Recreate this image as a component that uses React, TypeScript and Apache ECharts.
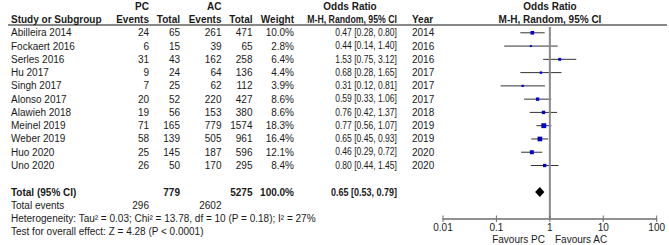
import { useEffect, useRef } from "react";
import * as echarts from "echarts";

const studies = [
  "Abilleira 2014", "Fockaert 2016", "Serles 2016", "Hu 2017", "Singh 2017", "Alonso 2017",
  "Alawieh 2018", "Meinel 2019", "Weber 2019", "Huo 2020", "Uno 2020",
];
const pcEvents = [24, 6, 31, 9, 7, 20, 19, 71, 58, 25, 26];
const pcTotal = [65, 15, 43, 24, 25, 52, 56, 165, 139, 145, 50];
const acEvents = [261, 39, 162, 64, 62, 220, 153, 779, 505, 187, 170];
const acTotal = [471, 65, 258, 136, 112, 427, 380, 1574, 961, 596, 295];
const weights = [10.0, 2.8, 6.4, 4.4, 3.9, 8.6, 8.6, 18.3, 16.4, 12.1, 8.4];
const oddsRatio = [0.47, 0.44, 1.53, 0.68, 0.31, 0.59, 0.76, 0.77, 0.65, 0.46, 0.8];
const ciLow = [0.28, 0.14, 0.75, 0.28, 0.12, 0.33, 0.42, 0.56, 0.45, 0.29, 0.44];
const ciHigh = [0.8, 1.4, 3.12, 1.65, 0.81, 1.06, 1.37, 1.07, 0.93, 0.72, 1.45];
const years = [2014, 2016, 2016, 2017, 2017, 2017, 2018, 2019, 2019, 2020, 2020];

const totalPcSubjects = 779;
const totalAcSubjects = 5275;
const totalWeight = 100.0;
const pooled = [0.65, 0.53, 0.79];
const totalPcEvents = 296;
const totalAcEvents = 2602;
const heterogeneityText = "Heterogeneity: Tau\u00b2 = 0.03; Chi\u00b2 = 13.78, df = 10 (P = 0.18); I\u00b2 = 27%";
const overallText = "Test for overall effect: Z = 4.28 (P < 0.0001)";
const xTicks = [0.01, 0.1, 1, 10, 100];

const FONT = '"Liberation Sans", Arial, sans-serif';
const FS = 10;
const TXT = "#1a1a1a";
const AXIS_COLOR = "#6e6e6e";
const ROW0 = 32.8;
const ROW_H = 13.27;
const RULE_Y = 25;
const AXIS_Y = 218.5;
const W = 669;
const H = 245;

const rowY = (i: number) => ROW0 + i * ROW_H;

const col = {
  study: 11,
  pcEv: 149,
  pcTot: 180,
  acEv: 221.5,
  acTot: 252.5,
  weight: 294,
  or: 397,
  year: 412,
  forest: 550,
};

function txt(text: string, x: number, y: number, align: string, bold = false, sx = 1) {
  return {
    type: "text",
    x,
    y,
    scaleX: sx,
    silent: true,
    style: {
      text,
      fill: TXT,
      fontFamily: FONT,
      fontSize: FS,
      fontWeight: bold ? "bold" : "normal",
      align,
      verticalAlign: "middle",
    },
  };
}

const fmtCI = (o: number, l: number, h: number) =>
  `${o.toFixed(2)} [${l.toFixed(2)}, ${h.toFixed(2)}]`;

export default function App() {
  const ref = useRef<HTMLDivElement>(null);
  useEffect(() => {
    if (!ref.current) return;
    const chart = echarts.init(ref.current, undefined, { renderer: "svg" });

    const graphics: any[] = [];
    const h1 = rowY(-2);
    const h2 = rowY(-1);
    graphics.push(txt("PC", col.pcEv, h1, "right", true));
    graphics.push(txt("AC", col.acEv, h1, "right", true));
    graphics.push(txt("Odds Ratio", 350, h1, "center", true));
    graphics.push(txt("Odds Ratio", col.forest, h1, "center", true));
    graphics.push(txt("Study or Subgroup", col.study, h2, "left", true));
    graphics.push(txt("Events", col.pcEv, h2, "right", true));
    graphics.push(txt("Total", col.pcTot, h2, "right", true));
    graphics.push(txt("Events", col.acEv, h2, "right", true));
    graphics.push(txt("Total", col.acTot, h2, "right", true));
    graphics.push(txt("Weight", col.weight, h2, "right", true));
    graphics.push(txt("M-H, Random, 95% CI", col.or, h2, "right", true, 0.875));
    graphics.push(txt("Year", col.year, h2, "left", true));
    graphics.push(txt("M-H, Random, 95% CI", col.forest, h2, "center", true));
    graphics.push({
      type: "line",
      silent: true,
      shape: { x1: 8, y1: RULE_Y, x2: 667, y2: RULE_Y },
      style: { stroke: "#111", lineWidth: 1 },
    });

    studies.forEach((s, i) => {
      const y = rowY(i);
      graphics.push(txt(s, col.study, y, "left"));
      graphics.push(txt(String(pcEvents[i]), col.pcEv, y, "right"));
      graphics.push(txt(String(pcTotal[i]), col.pcTot, y, "right"));
      graphics.push(txt(String(acEvents[i]), col.acEv, y, "right"));
      graphics.push(txt(String(acTotal[i]), col.acTot, y, "right"));
      graphics.push(txt(weights[i].toFixed(1) + "%", col.weight, y, "right"));
      graphics.push(txt(fmtCI(oddsRatio[i], ciLow[i], ciHigh[i]), col.or, y, "right", false, 0.855));
      graphics.push(txt(String(years[i]), col.year, y, "left"));
    });

    const nS = studies.length;
    const yTot = rowY(nS + 1);
    graphics.push(txt("Total (95% CI)", col.study, yTot, "left", true));
    graphics.push(txt(String(totalPcSubjects), col.pcTot, yTot, "right", true));
    graphics.push(txt(String(totalAcSubjects), col.acTot, yTot, "right", true));
    graphics.push(txt(totalWeight.toFixed(1) + "%", col.weight, yTot, "right", true));
    graphics.push(txt(fmtCI(pooled[0], pooled[1], pooled[2]), col.or, yTot, "right", true, 0.9));
    const yEv = rowY(nS + 2);
    graphics.push(txt("Total events", col.study, yEv, "left"));
    graphics.push(txt(String(totalPcEvents), col.pcEv, yEv, "right"));
    graphics.push(txt(String(totalAcEvents), col.acEv, yEv, "right"));
    graphics.push(txt(heterogeneityText, col.study, rowY(nS + 3), "left"));
    graphics.push(txt(overallText, col.study, rowY(nS + 4), "left"));
    graphics.push(txt("Favours PC", 545, 239.5, "right"));
    graphics.push(txt("Favours AC", 555, 239.5, "left"));

    const yMin = (RULE_Y - ROW0) / ROW_H;
    const yMax = (AXIS_Y - ROW0) / ROW_H;

    chart.setOption({
      animation: false,
      grid: { left: 443, right: W - 656.7, top: RULE_Y, bottom: H - AXIS_Y, show: false },
      xAxis: {
        type: "log",
        logBase: 10,
        min: xTicks[0],
        max: xTicks[xTicks.length - 1],
        position: "bottom",
        splitLine: { show: false },
        minorTick: { show: false },
        axisLine: { show: true, onZero: false, lineStyle: { color: AXIS_COLOR, width: 1.5 } },
        axisTick: { show: false },
        axisLabel: {
          show: true,
          margin: 4,
          color: TXT,
          fontSize: FS,
          fontFamily: FONT,
          formatter: (v: number) => String(parseFloat(Number(v).toPrecision(3))),
        },
      },
      yAxis: { type: "value", inverse: true, min: yMin, max: yMax, show: false },
      series: [
        {
          type: "custom",
          clip: false,
          silent: true,
          data: studies.map((_, i) => [oddsRatio[i], i, ciLow[i], ciHigh[i], weights[i]]),
          encode: { x: [0, 2, 3], y: 1 },
          renderItem: (_p: any, api: any) => {
            const row = api.value(1);
            const c = api.coord([api.value(0), row]);
            const l = api.coord([api.value(2), row]);
            const h = api.coord([api.value(3), row]);
            const s = Math.max(2, 1.15 * Math.sqrt(api.value(4)));
            return {
              type: "group",
              children: [
                {
                  type: "line",
                  shape: { x1: l[0], y1: c[1], x2: h[0], y2: c[1] },
                  style: { stroke: "#333", lineWidth: 1 },
                },
                {
                  type: "rect",
                  shape: { x: c[0] - s / 2, y: c[1] - s / 2, width: s, height: s },
                  style: { fill: "#0000cc" },
                },
              ],
            };
          },
        },
        {
          type: "custom",
          clip: false,
          silent: true,
          data: [[1, yMin + 0.15, yMax]],
          encode: { x: 0, y: [1, 2] },
          renderItem: (_p: any, api: any) => {
            const a = api.coord([api.value(0), api.value(1)]);
            const b = api.coord([api.value(0), api.value(2)]);
            return {
              type: "line",
              shape: { x1: a[0], y1: a[1], x2: b[0], y2: b[1] },
              style: { stroke: "#8a8a8a", lineWidth: 2 },
            };
          },
        },
        {
          type: "custom",
          clip: false,
          silent: true,
          data: xTicks.map((t) => [t, yMax]),
          encode: { x: 0, y: 1 },
          renderItem: (_p: any, api: any) => {
            const p = api.coord([api.value(0), api.value(1)]);
            return {
              type: "line",
              shape: { x1: p[0], y1: p[1] - 3, x2: p[0], y2: p[1] + 3.5 },
              style: { stroke: AXIS_COLOR, lineWidth: 1 },
            };
          },
        },
        {
          type: "custom",
          clip: false,
          silent: true,
          data: [[pooled[0], nS + 1, pooled[1], pooled[2]]],
          encode: { x: [0, 2, 3], y: 1 },
          renderItem: (_p: any, api: any) => {
            const row = api.value(1);
            const c = api.coord([api.value(0), row]);
            const l = api.coord([api.value(2), row]);
            const h = api.coord([api.value(3), row]);
            return {
              type: "polygon",
              shape: {
                points: [
                  [l[0], c[1]],
                  [c[0], c[1] - 5],
                  [h[0], c[1]],
                  [c[0], c[1] + 5],
                ],
              },
              style: { fill: "#000" },
            };
          },
        },
      ],
      graphic: graphics,
    });

    return () => chart.dispose();
  }, []);

  return (
    <div
      ref={ref}
      style={{ position: "fixed", left: 0, top: 0, width: W, height: H, background: "#fff" }}
    />
  );
}
